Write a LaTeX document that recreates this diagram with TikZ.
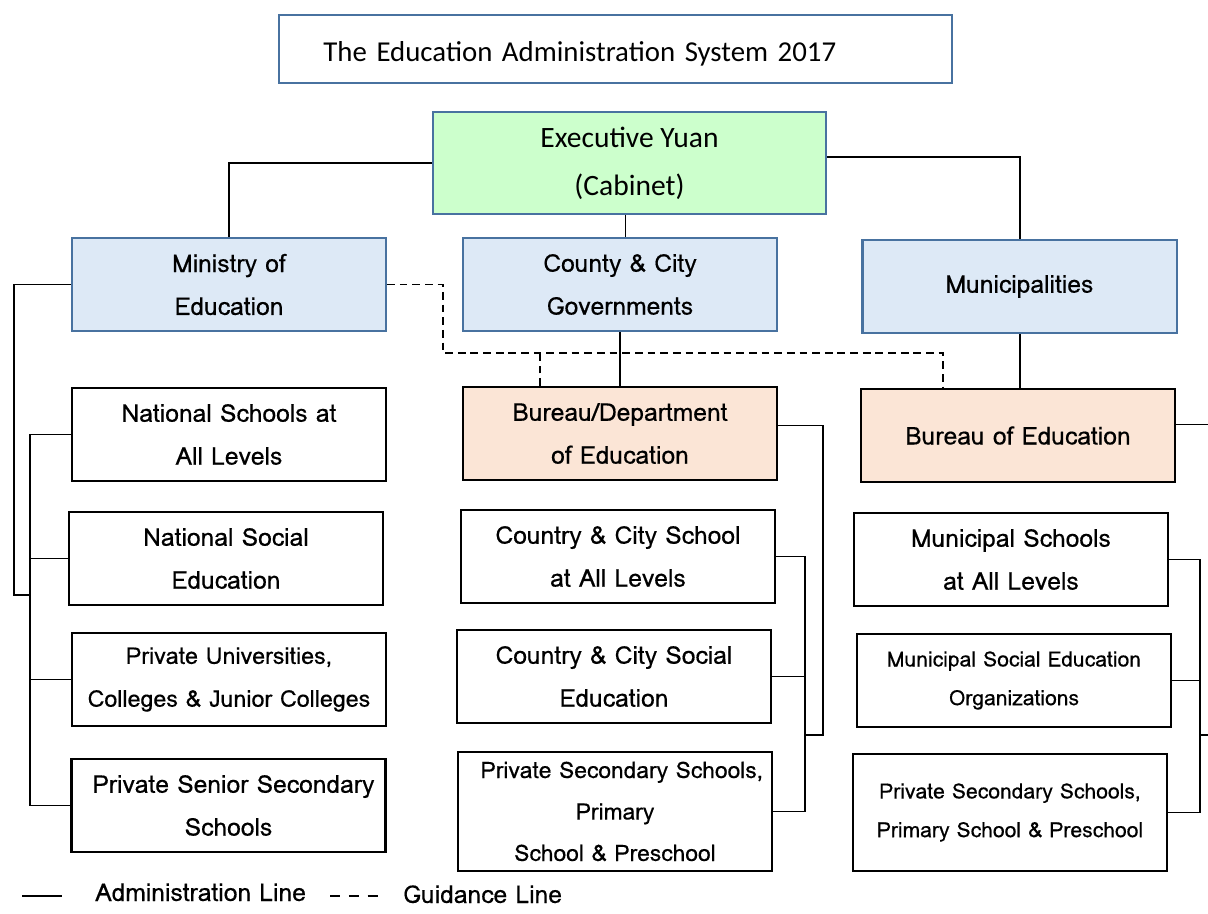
\documentclass[tikz,border=0pt]{standalone}
\usepackage{fontspec}
\usepackage{tikz}
\usetikzlibrary{arrows.meta}
\newfontfamily\boxfont[FakeBold=0.4]{Loma}
\newfontfamily\headfont{Carlito}
\definecolor{boxblue}{RGB}{72,114,160}
\definecolor{govfill}{RGB}{221,233,246}
\definecolor{cabfill}{RGB}{204,255,204}
\definecolor{burfill}{RGB}{251,229,214}

\begin{document}
\begin{tikzpicture}[x=0.025cm,y=-0.025cm,
	adminline/.style={line width=1.4pt},
	guideline/.style={line width=1.4pt,dash pattern=on 5.5pt off 3.5pt},
	orgbox/.style={line width=1.5pt,minimum width=7.85cm,minimum height=2.325cm,align=center,inner sep=2pt,font=\boxfont\fontsize{17.5}{30.5}\selectfont},
	govbox/.style={orgbox,draw=boxblue,fill=govfill},
	burbox/.style={orgbox,draw=black,fill=burfill},
	schbox/.style={orgbox,draw=black,fill=white}]
			
			\useasboundingbox (0,0) rectangle (1208,913);
			
			% title
			\node[draw=boxblue,line width=1.5pt,minimum width=16.825cm,minimum height=1.7cm,text width=14.6cm,inner xsep=1.1cm,text height=0.72cm,text depth=0.1cm,align=left,font=\headfont\fontsize{20.5}{24}\selectfont] (title) at (615.5,49) {The Education Administration System 2017};
			
			% cabinet
			\node[orgbox,draw=boxblue,fill=cabfill,minimum width=9.825cm,minimum height=2.55cm,font=\headfont\fontsize{21}{34}\selectfont] (cabinet) at (629.5,163) {Executive Yuan\\(Cabinet)};
			
			% governments
			\node[govbox] (ministry) at (229,284.5) {Ministry of\\Education};
			\node[govbox] (county) at (620,284.5) {County \& City\\Governments};
			\node[govbox] (munic) at (1019.5,286.5) {Municipalities};
			
			% bureaus
			\node[burbox] (cbureau) at (620,433.5) {Bureau/Department\\of Education};
			\node[burbox] (mbureau) at (1018,435.5) {Bureau of Education};
			
			% national schools
			\node[schbox] (natschool) at (229,434.5) {National Schools at\\All Levels};
			\node[schbox] (natsocial) at (226,558.5) {National Social\\Education};
			\node[schbox,font=\boxfont\fontsize{16.5}{30.5}\selectfont] (privuni) at (229,679.5) {Private Universities,\\Colleges \& Junior Colleges};
			\node[schbox] (privsenior) at (228.5,805.5) {\hspace*{0.4em}Private Senior Secondary\\Schools};
			
			% county schools
			\node[schbox] (cschool) at (618,556.5) {Country \& City School\\at All Levels};
			\node[schbox] (csocial) at (614,676.5) {Country \& City Social\\Education};
			\node[schbox,minimum height=2.975cm,font=\boxfont\fontsize{16.2}{29.5}\selectfont] (cprivate) at (615,811.5) {\hspace*{0.6em}Private Secondary Schools,\\Primary\\School \& Preschool};
			
			% municipal schools
			\node[schbox] (mschool) at (1011,559.5) {Municipal Schools\\at All Levels};
			\node[schbox,font=\boxfont\fontsize{15}{27.5}\selectfont] (msocial) at (1014,680.5) {Municipal Social Education\\Organizations};
			\node[schbox,minimum height=2.925cm,font=\boxfont\fontsize{15}{27.5}\selectfont] (mprivate) at (1010,812.5) {Private Secondary Schools,\\Primary School \& Preschool};
			
			% bus coordinates
			\coordinate (lbus) at (30,0);
			\coordinate (mbus) at (805,0);
			\coordinate (rbus) at (1200,0);
			\coordinate (lturn) at (14,595);
			\coordinate (mturn) at (823,735);
			\coordinate (gturn) at (443,353);
			\coordinate (redge) at (1208,0);
			
			% cabinet lines
			\draw[adminline] (cabinet.west) -| (ministry.north);
			\draw[adminline] ([yshift=0.15cm]cabinet.east) -| (munic.north);
			\draw[adminline] ([xshift=-0.1cm]cabinet.south) -- ([xshift=-0.1cm]cabinet.south |- county.north);
			\draw[adminline] (county.south) -- (cbureau.north);
			\draw[adminline] (munic.south) -- (munic.south |- mbureau.north);
			
			% ministry lines
			\draw[adminline] (ministry.west) -| (lturn) -- (lturn -| lbus);
			\draw[adminline] (natschool.west) -- (natschool.west -| lbus) -- (privsenior.west -| lbus) -- (privsenior.west);
			\draw[adminline] (natsocial.west) -- (natsocial.west -| lbus);
			\draw[adminline] (privuni.west) -- (privuni.west -| lbus);
			
			% county lines
			\draw[adminline] ([yshift=0.2cm]cbureau.east) -| (mturn) -- (mturn -| mbus);
			\draw[adminline] (cschool.east) -- (cschool.east -| mbus) -- (cprivate.east -| mbus) -- (cprivate.east);
			\draw[adminline] (csocial.east) -- (csocial.east -| mbus);
			
			% municipal lines
			\draw[adminline] ([yshift=0.275cm]mbureau.east) -- ([yshift=0.275cm]mbureau.east -| redge);
			\draw[adminline] (mschool.east) -- (mschool.east -| rbus) -- (mprivate.east -| rbus) -- (mprivate.east);
			\draw[adminline] (msocial.east) -- (msocial.east -| rbus);
			\draw[adminline] (mturn -| rbus) -- (mturn -| redge);
			
			% guidance lines
			\draw[guideline] (ministry.east) -| (gturn) -| ([xshift=-1.875cm]mbureau.north);
			\draw[guideline] ([xshift=-2cm]cbureau.north) -- ([xshift=-2cm]cbureau.north |- gturn);
			
			% legend
			\draw[adminline] (22,896) -- (62,896);
			\node[anchor=base west,inner sep=0pt,font=\boxfont\fontsize{17.5}{20}\selectfont] (adminkey) at (95,901) {Administration Line};
			\draw[guideline,dash pattern=on 7.1pt off 6.3pt] (330,896) -- (378,896);
			\node[anchor=base west,inner sep=0pt,font=\boxfont\fontsize{17.5}{20}\selectfont] (guidekey) at (403,903) {Guidance Line};
			
\end{tikzpicture}
\end{document}
